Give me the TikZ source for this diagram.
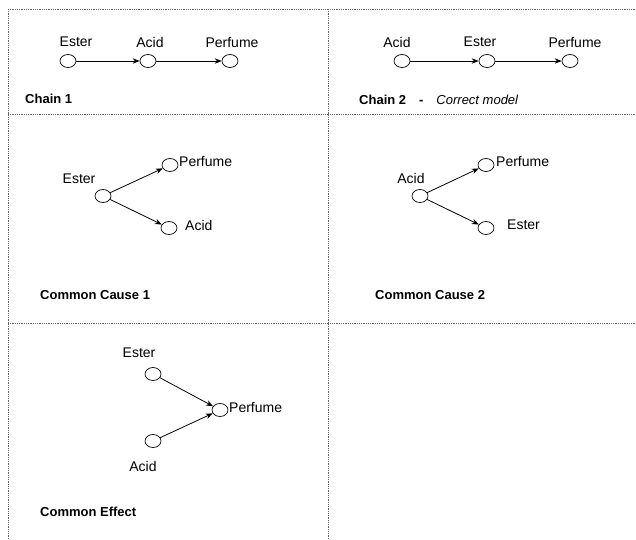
\documentclass[tikz,border=0pt]{standalone}
\usepackage{fontspec}
\setmainfont{Liberation Sans}
\usetikzlibrary{shapes.geometric,arrows.meta}

\tikzset{
  var/.style={draw,ellipse,line width=0.7pt,minimum width=16pt,minimum height=13pt,inner sep=0pt},
  lbl/.style={font=\fontsize{14}{16}\selectfont,inner sep=0pt},
  ttl/.style={font=\fontsize{13}{15}\selectfont\bfseries,inner sep=0pt,anchor=west},
  frame/.style={black!60,densely dotted,line width=0.8pt},
  edge/.style={-{Stealth[length=7pt,width=5.5pt]},line width=0.8pt}
}

\begin{document}
\begin{tikzpicture}[x=1pt,y=-1pt]
\useasboundingbox (0,0) rectangle (636,539);
% frame lines
\draw[frame] (8,9) -- (636,9);
\draw[frame] (8,9) -- (8,539);
\draw[frame] (8,114) -- (636,114);
\draw[frame] (8,323) -- (636,323);
\draw[frame] (328,9) -- (328,539);

% chain 1
\node[var] (e1) at (68,61) {};
\node[var] (a1) at (148,61) {};
\node[var] (p1) at (230,61) {};
\node[lbl] (le1) at (76,42) {Ester};
\node[lbl] (la1) at (150,42) {Acid};
\node[lbl] (lp1) at (232,42) {Perfume};
\draw[edge] (e1) -- (a1);
\draw[edge] (a1) -- (p1);
\node[ttl] (t1) at (25,99) {Chain 1};

% chain 2
\node[var] (a2) at (402,61) {};
\node[var] (e2) at (487,61) {};
\node[var] (p2) at (570,61) {};
\node[lbl] (la2) at (397,42) {Acid};
\node[lbl] (le2) at (480,42) {Ester};
\node[lbl] (lp2) at (575,42) {Perfume};
\draw[edge] (a2) -- (e2);
\draw[edge] (e2) -- (p2);
\node[ttl] (t2) at (359,100) {Chain 2\hspace{13pt}-\hspace{13pt}\mdseries\itshape Correct model};

% common cause 1
\node[var] (e3) at (103,196) {};
\node[var] (p3) at (170,165) {};
\node[var] (a3) at (169,228) {};
\node[lbl] (le3) at (79,179) {Ester};
\node[lbl,anchor=west] (lp3) at (179,161) {Perfume};
\node[lbl,anchor=west] (la3) at (185,225) {Acid};
\draw[edge] (e3) -- (p3);
\draw[edge] (e3) -- (a3);
\node[ttl] (t3) at (40,295) {Common Cause 1};

% common cause 2
\node[var] (a4) at (420,196) {};
\node[var] (p4) at (486,165) {};
\node[var] (e4) at (486,228) {};
\node[lbl] (la4) at (411,178) {Acid};
\node[lbl,anchor=west] (lp4) at (496,161) {Perfume};
\node[lbl,anchor=west] (le4) at (507,225) {Ester};
\draw[edge] (a4) -- (p4);
\draw[edge] (a4) -- (e4);
\node[ttl] (t4) at (375,295) {Common Cause 2};

% common effect
\node[var] (e5) at (153,374) {};
\node[var] (a5) at (153,441) {};
\node[var] (p5) at (220,410) {};
\node[lbl] (le5) at (139,353) {Ester};
\node[lbl] (la5) at (143,466) {Acid};
\node[lbl,anchor=west] (lp5) at (229,407) {Perfume};
\draw[edge] (e5) -- (p5);
\draw[edge] (a5) -- (p5);
\node[ttl] (t5) at (40,512) {Common Effect};
\end{tikzpicture}
\end{document}
